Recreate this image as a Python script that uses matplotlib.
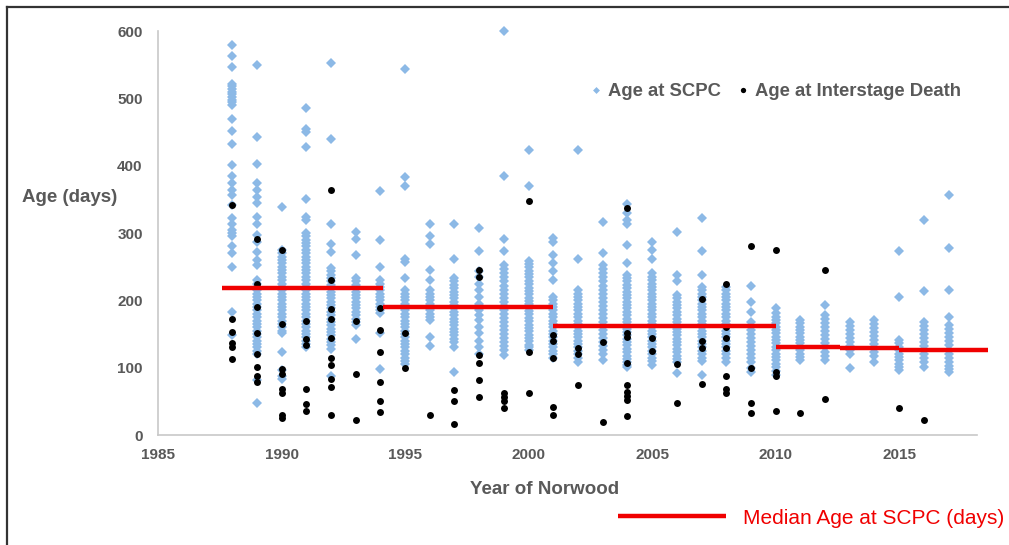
import matplotlib
matplotlib.use('Agg')
import matplotlib.pyplot as plt
from matplotlib.lines import Line2D

# years of Norwood operation
years = list(range(1988, 2018))

# age at SCPC (days), one list per year
scpc_ages = [
    [579, 563, 546, 522, 518, 514, 510, 506, 502, 498, 494, 490, 470, 451, 432, 401, 384, 374, 364, 356, 342, 322, 313, 305, 300, 295, 281, 270, 250, 183, 149],
    [550, 443, 402, 375, 364, 354, 344, 324, 314, 297, 286, 272, 260, 252, 230, 225, 220, 215, 210, 205, 200, 195, 190, 185, 180, 175, 170, 165, 160, 155, 150, 145, 140, 135, 130, 125, 121, 82, 47],
    [338, 275, 270, 265, 260, 255, 250, 245, 240, 235, 230, 225, 220, 215, 210, 205, 200, 195, 190, 185, 180, 175, 170, 165, 160, 155, 151, 123, 97, 88, 83],
    [486, 455, 450, 428, 351, 324, 319, 300, 295, 290, 285, 280, 275, 270, 265, 260, 255, 250, 245, 240, 235, 230, 225, 220, 215, 210, 205, 200, 195, 190, 185, 180, 175, 170, 165, 160, 155, 150, 145, 140, 135, 131],
    [553, 439, 313, 284, 272, 248, 243, 238, 233, 228, 223, 218, 213, 208, 203, 198, 193, 188, 183, 178, 173, 168, 163, 158, 153, 148, 143, 138, 133, 128, 88],
    [302, 291, 267, 233, 228, 223, 218, 213, 208, 203, 198, 193, 188, 183, 178, 173, 168, 163, 142],
    [362, 289, 250, 230, 225, 220, 215, 210, 205, 200, 195, 190, 185, 181, 151, 98],
    [544, 383, 370, 262, 257, 233, 215, 210, 205, 200, 195, 190, 185, 180, 175, 170, 165, 160, 155, 150, 145, 140, 135, 130, 125, 120, 115, 110, 106],
    [313, 295, 284, 245, 230, 215, 210, 205, 200, 195, 190, 185, 180, 175, 171, 146, 132],
    [313, 262, 233, 228, 223, 218, 213, 208, 203, 198, 193, 188, 183, 178, 173, 168, 163, 158, 153, 148, 143, 138, 131, 93],
    [308, 274, 244, 235, 225, 215, 205, 195, 186, 178, 171, 160, 151, 140, 130, 121],
    [600, 385, 291, 274, 252, 246, 240, 234, 228, 222, 216, 210, 204, 198, 192, 186, 180, 174, 168, 162, 156, 150, 144, 138, 132, 126, 119],
    [423, 370, 259, 254, 249, 244, 239, 234, 229, 224, 219, 214, 209, 204, 199, 194, 189, 184, 179, 174, 169, 164, 159, 154, 149, 144, 139, 134, 130, 126],
    [292, 287, 268, 255, 244, 230, 205, 200, 195, 190, 185, 180, 175, 170, 165, 160, 155, 150, 145, 140, 135, 130, 125, 120, 114],
    [423, 262, 215, 210, 205, 200, 195, 190, 185, 180, 175, 170, 165, 160, 155, 150, 145, 140, 135, 130, 125, 120, 115, 109],
    [316, 270, 252, 246, 240, 234, 228, 222, 216, 210, 204, 198, 192, 186, 180, 174, 168, 162, 156, 150, 144, 138, 132, 126, 120, 111],
    [343, 329, 320, 314, 282, 255, 238, 233, 228, 223, 218, 213, 208, 203, 198, 193, 188, 183, 178, 173, 168, 163, 158, 153, 148, 143, 138, 133, 128, 123, 118, 113, 108, 104, 101],
    [286, 275, 261, 240, 235, 230, 225, 220, 215, 210, 205, 200, 195, 190, 185, 180, 175, 170, 165, 160, 155, 150, 145, 140, 135, 130, 125, 120, 115, 110, 104],
    [302, 238, 228, 208, 203, 198, 193, 188, 183, 178, 173, 168, 163, 158, 153, 148, 143, 138, 133, 128, 123, 118, 113, 108, 92],
    [322, 274, 238, 220, 215, 210, 205, 200, 195, 190, 185, 180, 175, 170, 165, 160, 155, 150, 145, 140, 135, 130, 125, 120, 115, 110, 89],
    [220, 215, 210, 205, 200, 195, 190, 185, 180, 175, 170, 165, 160, 155, 150, 145, 140, 135, 130, 125, 120, 115, 109],
    [221, 198, 183, 168, 162, 156, 150, 144, 138, 132, 126, 120, 114, 108, 100, 94],
    [188, 181, 176, 171, 166, 161, 156, 151, 146, 141, 136, 131, 126, 121, 116, 111, 106, 101, 95, 89],
    [171, 166, 161, 156, 151, 146, 141, 136, 131, 126, 121, 116, 111],
    [193, 178, 172, 166, 160, 154, 148, 142, 136, 130, 124, 118, 111],
    [168, 162, 156, 150, 144, 138, 132, 127, 121, 100],
    [171, 165, 159, 153, 147, 141, 135, 129, 123, 117, 109],
    [273, 205, 141, 136, 131, 126, 121, 116, 111, 106, 101, 97],
    [320, 214, 168, 162, 156, 150, 144, 138, 132, 126, 120, 114, 108, 101],
    [356, 278, 215, 176, 163, 157, 151, 145, 139, 133, 127, 121, 115, 109, 103, 98, 93],
]

# age at interstage death (days), one list per year
death_ages = [
    [342, 172, 153, 137, 130, 113],
    [291, 225, 190, 152, 120, 101, 87, 78],
    [275, 165, 98, 91, 69, 62, 30, 26],
    [170, 142, 134, 69, 46, 35],
    [364, 230, 187, 172, 144, 115, 104, 83, 71, 30],
    [170, 90, 22],
    [188, 156, 123, 78, 50, 34],
    [151, 100],
    [30],
    [67, 51, 16],
    [245, 235, 119, 107, 81, 57],
    [62, 56, 50, 40],
    [347, 123, 63],
    [149, 139, 115, 42, 30],
    [129, 121, 74],
    [138, 20],
    [337, 151, 146, 107, 74, 64, 58, 52, 28],
    [144, 125],
    [106, 48],
    [202, 139, 129, 76],
    [225, 161, 144, 129, 88, 69, 63],
    [280, 100, 48, 33],
    [275, 93, 88, 36],
    [33],
    [245, 54],
    [],
    [],
    [40],
    [23],
    [],
]

# median age at SCPC by era
median_start = [1987.6, 1994.1, 2001.0, 2010.0, 2012.6, 2015.0, 2017.5]
median_end = [1994.1, 2001.0, 2010.0, 2012.6, 2015.0, 2017.5, 2018.6]
median_value = [218, 190, 162, 131, 129, 127, 126]

blue = '#8CB9E6'
grey = '#595959'
plt.rcParams['font.family'] = ['Liberation Sans', 'DejaVu Sans']

fig = plt.figure(figsize=(10.09, 5.45), dpi=100)
ax = fig.add_axes([0.1566, 0.2018, 0.8117, 0.7413])

sx, sy, dx, dy = [], [], [], []
for y, a, d in zip(years, scpc_ages, death_ages):
    sx += [y] * len(a)
    sy += a
    dx += [y] * len(d)
    dy += d

ax.plot(sx, sy, 'D', color=blue, markersize=4.9, markeredgewidth=0, zorder=2, clip_on=False)
ax.plot(dx, dy, 'o', color='black', markersize=5.0, markeredgewidth=0, zorder=3, clip_on=False)
for x0, x1, v in zip(median_start, median_end, median_value):
    ax.plot([x0, x1], [v, v], color='#F00000', linewidth=3.2, solid_capstyle='butt',
            zorder=4, clip_on=False)

ax.set_xlim(1985, 2018.15)
ax.set_ylim(0, 600)
ax.set_xticks(range(1985, 2016, 5))
ax.set_yticks(range(0, 601, 100))
for s in ['top', 'right']:
    ax.spines[s].set_visible(False)
for s in ['left', 'bottom']:
    ax.spines[s].set_color('#C8C8C8')
    ax.spines[s].set_linewidth(1.2)
ax.tick_params(length=0, labelsize=11, labelcolor=grey)
ax.tick_params(axis='y', pad=11)
ax.tick_params(axis='x', pad=9)
for lab in ax.get_xticklabels() + ax.get_yticklabels():
    lab.set_fontweight('bold')

fig.text(70 / 1009, 1 - 197 / 545, 'Age (days)', ha='center', va='center',
         fontsize=13.5, fontweight='bold', color=grey)
fig.text(545 / 1009, 1 - 489 / 545, 'Year of Norwood', ha='center', va='center',
         fontsize=13.5, fontweight='bold', color=grey)

h1 = Line2D([], [], marker='D', color=blue, linestyle='none', markersize=3.5, markeredgewidth=0)
h2 = Line2D([], [], marker='o', color='black', linestyle='none', markersize=3.8, markeredgewidth=0)
leg = fig.legend([h1, h2], ['Age at SCPC', 'Age at Interstage Death'], loc='center',
                 bbox_to_anchor=(776 / 1009, 1 - 92 / 545), ncol=2, frameon=False,
                 handlelength=0.6, handletextpad=0.35, columnspacing=0.9,
                 prop={'size': 13.3, 'weight': 'bold'})
for t in leg.get_texts():
    t.set_color(grey)

h3 = Line2D([], [], color='#F00000', linewidth=3.2, solid_capstyle='butt')
leg2 = fig.legend([h3], ['Median Age at SCPC (days)'], loc='center',
                  bbox_to_anchor=(811 / 1009, 1 - 518 / 545), frameon=False,
                  handlelength=5.2, handletextpad=0.8, prop={'size': 15})
for t in leg2.get_texts():
    t.set_color('#F00000')

# frame around the picture (top and left edges visible)
fig.add_artist(Line2D([7 / 1009, 1.0], [1 - 7 / 545, 1 - 7 / 545], color='#333333',
                      linewidth=1.6, transform=fig.transFigure))
fig.add_artist(Line2D([7 / 1009, 7 / 1009], [0.0, 1 - 7 / 545], color='#333333',
                      linewidth=1.6, transform=fig.transFigure))

fig.savefig('out.png', dpi=100)
